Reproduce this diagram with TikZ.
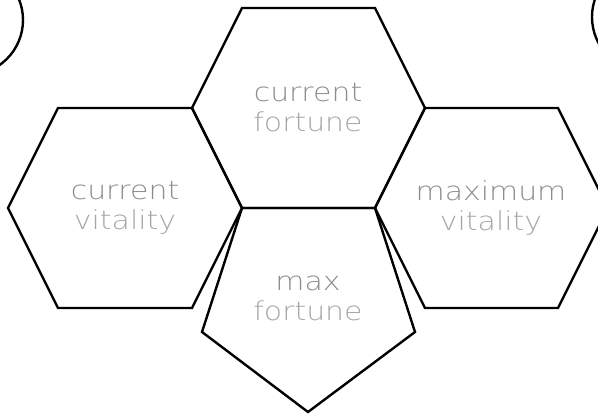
\documentclass[tikz,border=0pt]{standalone}
\usepackage{fontspec}
\newfontfamily\lcdfont{DejaVu Sans ExtraLight}[FakeStretch=1.15]

\begin{document}
\begin{tikzpicture}[x=1pt,y=1pt,line width=2.4pt]
  \tikzset{celltext/.style={align=center,font=\fontsize{26}{30}\selectfont\lcdfont}}
  % Page frame, cut to size.
  \useasboundingbox (0,0) rectangle (598,414);
  \clip (0,0) rectangle (598,414);
  % Neighbouring cells peeking in at the corners.
  \draw (-32,394) circle (55);
  \draw (647,397) circle (55);
  % Top hexagon.
  \draw (242,406) -- (375,406) -- (425,306) -- (375,206) -- (242,206) -- (192,306) -- cycle;
  % Left and right hexagons.
  \draw (58,306) -- (192,306) -- (242,206) -- (192,106) -- (58,106) -- (8,206) -- cycle;
  \draw (425,306) -- (558,306) -- (608,206) -- (558,106) -- (425,106) -- (375,206) -- cycle;
  % Pentagon hanging underneath.
  \draw (242,206) -- (375,206) -- (415,82) -- (308,2) -- (202,82) -- cycle;
  % Labels.
  \node[celltext] (curfortune) at (308,306) {{\color{black!45}current}\\{\color{black!35}fortune}};
  \node[celltext] (curvitality) at (125,206) {{\color{black!45}current}\\{\color{black!35}vitality}};
  \node[celltext] (maxvitality) at (491,206) {{\color{black!45}maximum}\\{\color{black!35}vitality}};
  \node[celltext] (maxfortune) at (308,116) {{\color{black!45}max}\\{\color{black!35}fortune}};
\end{tikzpicture}
\end{document}
